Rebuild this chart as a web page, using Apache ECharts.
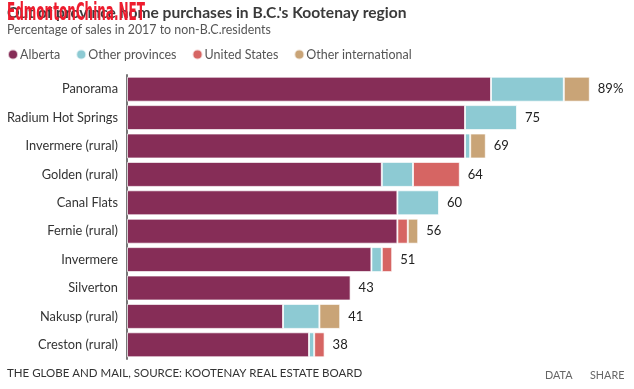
<!DOCTYPE html>
<html>
<head>
<meta charset="utf-8">
<script src="https://cdn.jsdelivr.net/npm/echarts@6/dist/echarts.min.js"></script>
<style>
html,body{margin:0;padding:0;background:#fff;}
#c{width:634px;height:389px;}
</style>
</head>
<body>
<div id="c"></div>
<script>
const categories = ['Panorama','Radium Hot Springs','Invermere (rural)','Golden (rural)','Canal Flats','Fernie (rural)','Invermere','Silverton','Nakusp (rural)','Creston (rural)'];
const alberta = [70, 65, 65, 49, 52, 52, 47, 43, 30, 35];
const otherProvinces = [14, 10, 1, 6, 8, 0, 2, 0, 7, 1];
const unitedStates = [0, 0, 0, 9, 0, 2, 2, 0, 0, 2];
const otherInternational = [5, 0, 3, 0, 0, 2, 0, 0, 4, 0];
const seriesNames = ['Alberta','Other provinces','United States','Other international'];
const colors = ['#862d57','#8dcad3','#d66563','#c9a477'];

const totals = categories.map((_, i) => alberta[i] + otherProvinces[i] + unitedStates[i] + otherInternational[i]);
const FONT = 'Lato, "Open Sans", sans-serif';

// watermark width fitting
const WM_TEXT = 'EdmontonChina.NET';
const WM_FONT = 'bold 24px "Liberation Sans Narrow", "DejaVu Sans", sans-serif';
const cv = document.createElement('canvas').getContext('2d');
cv.font = WM_FONT;
const wmScale = 138 / cv.measureText(WM_TEXT).width;

const chart = echarts.init(document.getElementById('c'), null, {renderer:'canvas'});
const data = [alberta, otherProvinces, unitedStates, otherInternational];
const series = data.map((d, k) => ({
  name: seriesNames[k],
  type: 'bar',
  stack: 'all',
  barCategoryGap: '12%',
  itemStyle: {color: colors[k], borderColor: 'rgba(255,255,255,0.7)', borderWidth: 1},
  emphasis: {disabled: true},
  data: d.map(v => v === 0 ? null : v)
}));
series.push({
  name: 'total',
  type: 'bar',
  barGap: '-100%',
  barCategoryGap: '12%',
  z: 1,
  itemStyle: {color: 'rgba(0,0,0,0)'},
  label: {
    show: true, position: 'right', distance: 8,
    fontFamily: FONT, fontSize: 13, color: '#222',
    formatter: p => p.dataIndex === 0 ? p.value + '%' : String(p.value)
  },
  emphasis: {disabled: true},
  data: totals
});

chart.setOption({
  animation: false,
  grid: {left: 127, top: 75, width: 468, height: 284, containLabel: false},
  legend: {
    data: seriesNames,
    left: 7, top: 48, padding: 0,
    icon: 'circle', itemWidth: 10, itemHeight: 10, itemGap: 15,
    textStyle: {fontFamily: FONT, fontSize: 12.5, color: '#555', padding: [0,0,0,-3]},
    selectedMode: false
  },
  xAxis: {
    type: 'value', min: 0, max: 90,
    show: false
  },
  yAxis: {
    type: 'category', data: categories, inverse: true,
    axisLine: {show: true, lineStyle: {color: '#777', width: 2}},
    axisTick: {show: false},
    axisLabel: {fontFamily: FONT, fontSize: 12.8, color: '#333', margin: 9}
  },
  series: series,
  graphic: [
    {type: 'text', left: 7, top: 5, style: {text: "Out of province home purchases in B.C.'s Kootenay region", font: 'bold 15.6px ' + FONT, fill: '#3a3a3a'}},
    {type: 'text', x: 7, y: 2, scaleX: wmScale, scaleY: 1, style: {x: 0, y: 0, text: WM_TEXT, font: WM_FONT, fill: '#ee1c2e', verticalAlign: 'top'}},
    {type: 'text', left: 7, top: 24, style: {text: 'Percentage of sales in 2017 to non-B.C.residents', font: '12.4px ' + FONT, fill: '#555'}},
    {type: 'text', left: 7, top: 367, style: {text: 'THE GLOBE AND MAIL, SOURCE: KOOTENAY REAL ESTATE BOARD', font: '11.5px ' + FONT, fill: '#333'}},
    {type: 'text', left: 545, top: 370, style: {text: 'DATA', font: '10.8px ' + FONT, fill: '#666'}},
    {type: 'text', left: 590, top: 370, style: {text: 'SHARE', font: '10.8px ' + FONT, fill: '#666'}}
  ]
});
</script>
</body>
</html>
